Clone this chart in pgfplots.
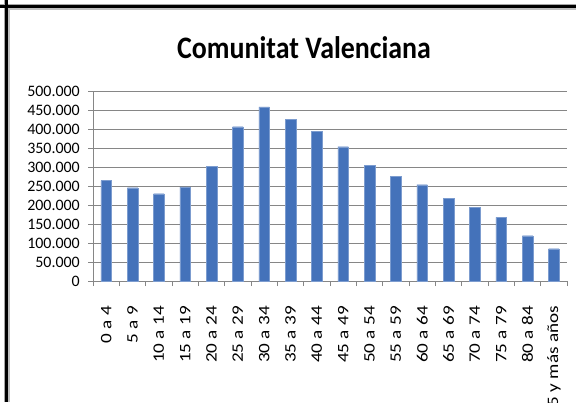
\documentclass[border=0pt]{standalone}
\usepackage{graphicx}
\usepackage{pgfplots}
\pgfplotsset{compat=1.18}
\usepackage{fontspec}
\setmainfont{Carlito}
\definecolor{barc}{RGB}{68,114,186}
\definecolor{gridc}{RGB}{134,134,134}
\newcommand{\xl}[1]{\scalebox{1.2}[1]{#1}}
\begin{document}
\begin{tikzpicture}[x=1bp,y=1bp]
\path[use as bounding box] (0,0) rectangle (576,402);
\begin{axis}[
  at={(93bp,121bp)}, anchor=south west,
  scale only axis, width=474bp, height=190bp,
  xmin=-0.5, xmax=17.5, ymin=0, ymax=500000,
  axis lines*=left,
  axis line style={gridc, line width=0.8bp},
  ybar, bar width=10.5bp,
  scaled y ticks=false,
  ytick={0,50000,...,500000},
  yticklabels={0,50.000,100.000,150.000,200.000,250.000,300.000,350.000,400.000,450.000,500.000},
  ymajorgrids, grid style={gridc, line width=0.8bp},
  major tick length=5bp, tick align=outside,
  ytick style={gridc, line width=0.8bp},
  y tick label style={font=\fontsize{16}{16}\selectfont, inner sep=0pt},
  yticklabel shift=8bp,
  xtick={0,...,17},
  xticklabels={\xl{0 a 4},\xl{5 a 9},\xl{10 a 14},\xl{15 a 19},\xl{20 a 24},\xl{25 a 29},\xl{30 a 34},\xl{35 a 39},\xl{40 a 44},\xl{45 a 49},\xl{50 a 54},\xl{55 a 59},\xl{60 a 64},\xl{65 a 69},\xl{70 a 74},\xl{75 a 79},\xl{80 a 84},\xl{85 y más años}},
  x tick label style={rotate=90, anchor=east, font=\fontsize{16}{16}\selectfont, inner sep=0pt},
  xticklabel shift=20bp,
  xtick style={draw=none},
  extra x ticks={-0.5,0.5,...,17.5},
  extra x tick labels={},
  extra x tick style={xtick style={draw=gridc, line width=0.8bp}, major tick length=5bp},
  clip=false,
]
\addplot[fill=barc, draw=barc!70!white, line width=0.4bp] coordinates {
(0,264000) (1,245500) (2,229700) (3,247400) (4,300800) (5,406000)
(6,457900) (7,426300) (8,392900) (9,353400) (10,304400) (11,274500)
(12,253400) (13,217600) (14,193900) (15,167600) (16,119200) (17,85000)};
\end{axis}
\node[anchor=base] at (304,344) {\scalebox{1}[1.12]{\fontsize{28}{30}\selectfont\bfseries Comunitat Valenciana}};
% frame
\draw[gray!70, line width=1bp] (4.5,0) -- (4.5,402);
\draw[gray!50, line width=1.5bp] (9,0) -- (9,395);
\draw[gray!70, line width=1bp] (0,397.5) -- (576,397.5);
\draw[gray!50, line width=1.5bp] (7,393) -- (576,393);
\draw[black, line width=3bp] (6.5,0) -- (6.5,402);
\draw[black, line width=3bp] (0,395.5) -- (576,395.5);
\end{tikzpicture}
\end{document}
